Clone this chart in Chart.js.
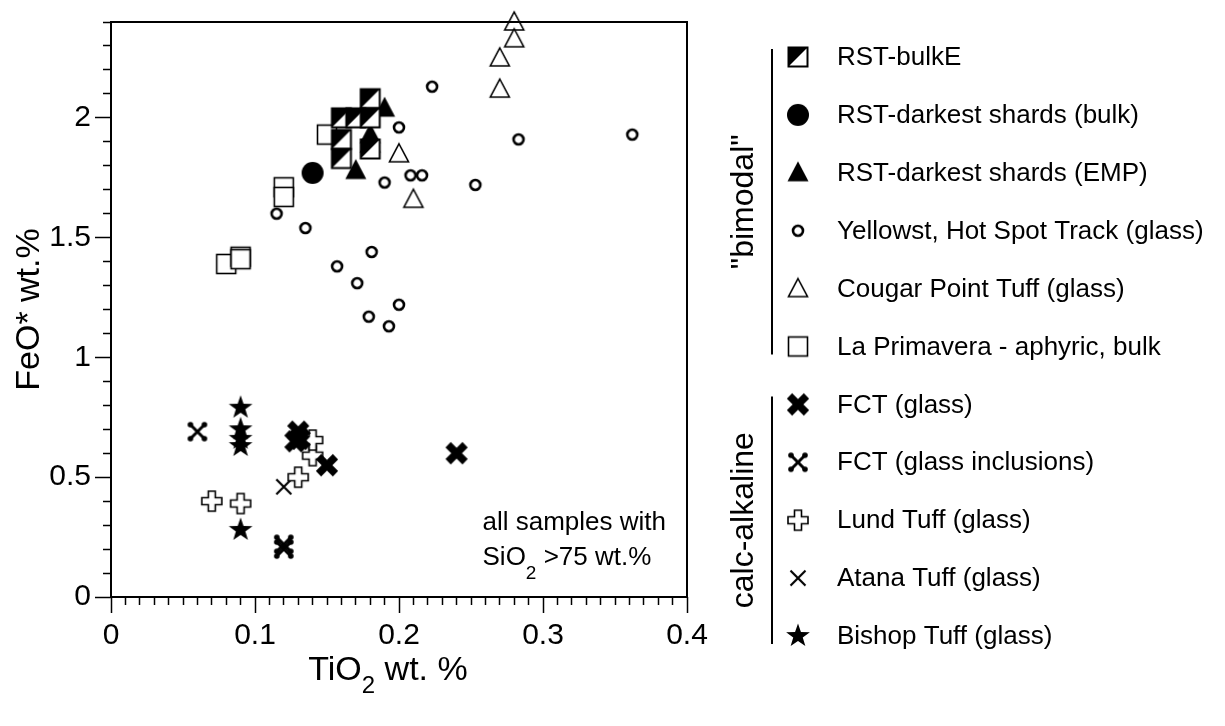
<!DOCTYPE html>
<html>
<head>
<meta charset="utf-8">
<script src="https://cdn.jsdelivr.net/npm/chart.js@4.4.1/dist/chart.umd.min.js"></script>
<style>
  html, body { margin: 0; padding: 0; background: #fff; }
  #wrap { width: 1225px; height: 726px; }
</style>
</head>
<body>
<div id="wrap"><canvas id="feoChart" width="1225" height="726"></canvas></div>
<script>
// TiO2 (x) vs FeO* (y), wt.%
const rstBulkE = [[0.18,2.08],[0.16,2.0],[0.17,2.0],[0.18,2.0],[0.16,1.91],[0.16,1.83],[0.18,1.87]];
const rstDarkBulk = [[0.14,1.77]];
const rstDarkEmp = [[0.19,2.04],[0.18,1.93],[0.18,1.89],[0.17,1.78]];
const yellowstone = [[0.2,1.96],[0.19,1.73],[0.208,1.76],[0.216,1.76],[0.223,2.13],[0.283,1.91],[0.362,1.93],[0.253,1.72],
  [0.115,1.6],[0.135,1.54],[0.181,1.44],[0.157,1.38],[0.171,1.31],[0.2,1.22],[0.179,1.17],[0.193,1.13]];
const cougarPoint = [[0.28,2.4],[0.28,2.33],[0.27,2.25],[0.27,2.12],[0.2,1.85],[0.21,1.66]];
const laPrimavera = [[0.15,1.93],[0.12,1.71],[0.12,1.67],[0.08,1.39],[0.09,1.42],[0.09,1.41]];
const fctGlass = [[0.13,0.69],[0.131,0.66],[0.128,0.65],[0.15,0.55],[0.24,0.60]];
const fctInclusions = [[0.06,0.69],[0.12,0.22],[0.12,0.20]];
const lundTuff = [[0.07,0.40],[0.09,0.39],[0.13,0.50],[0.14,0.59],[0.14,0.655]];
const atanaTuff = [[0.12,0.46],[0.12,0.21]];
const bishopTuff = [[0.09,0.79],[0.09,0.70],[0.09,0.66],[0.09,0.63],[0.09,0.28]];

const seriesNames = ['RST-bulkE', 'RST-darkest shards (bulk)', 'RST-darkest shards (EMP)',
  'Yellowst, Hot Spot Track (glass)', 'Cougar Point Tuff (glass)', 'La Primavera - aphyric, bulk',
  'FCT (glass)', 'FCT (glass inclusions)', 'Lund Tuff (glass)', 'Atana Tuff (glass)', 'Bishop Tuff (glass)'];
const groupNames = ['"bimodal"', 'calc-alkaline'];
const groupSizes = [6, 5];

const xTicksMajor = [0, 0.1, 0.2, 0.3, 0.4];
const yTicksMajor = [0, 0.5, 1, 1.5, 2];

const FONT = "'Liberation Sans', Arial, Helvetica, sans-serif";

// small canvases used as point styles
function marker(draw) {
  const c = document.createElement('canvas');
  c.width = 32; c.height = 32;
  const g = c.getContext('2d');
  g.translate(16, 16);
  g.strokeStyle = '#000';
  g.fillStyle = '#000';
  draw(g);
  return c;
}

const markers = [
  marker(g => { // half-filled square
    g.fillStyle = '#fff'; g.fillRect(-9.5, -9.5, 19, 19);
    g.fillStyle = '#000';
    g.beginPath(); g.moveTo(-9.5, -9.5); g.lineTo(9.5, -9.5); g.lineTo(-9.5, 9.5); g.closePath(); g.fill();
    g.lineWidth = 2; g.strokeRect(-9.5, -9.5, 19, 19);
  }),
  marker(g => { g.beginPath(); g.arc(0, 0, 11, 0, Math.PI * 2); g.fill(); }),
  marker(g => {
    g.beginPath(); g.moveTo(0, -11.5); g.lineTo(10.5, 8.5); g.lineTo(-10.5, 8.5); g.closePath(); g.fill();
  }),
  marker(g => {
    g.fillStyle = '#fff'; g.lineWidth = 2.6;
    g.beginPath(); g.arc(0, 0, 5, 0, Math.PI * 2); g.fill(); g.stroke();
  }),
  marker(g => {
    g.fillStyle = '#fff'; g.lineWidth = 1.6;
    g.beginPath(); g.moveTo(0, -10); g.lineTo(9.5, 8); g.lineTo(-9.5, 8); g.closePath(); g.fill(); g.stroke();
  }),
  marker(g => {
    g.fillStyle = '#fff'; g.lineWidth = 1.6;
    g.fillRect(-9.5, -9.5, 19, 19); g.strokeRect(-9.5, -9.5, 19, 19);
  }),
  marker(g => { // heavy x
    g.lineWidth = 7.5;
    g.beginPath(); g.moveTo(-8.5, -8.5); g.lineTo(8.5, 8.5); g.moveTo(8.5, -8.5); g.lineTo(-8.5, 8.5); g.stroke();
  }),
  marker(g => { // x with knobbed ends
    g.lineWidth = 3;
    g.beginPath(); g.moveTo(-7, -7); g.lineTo(7, 7); g.moveTo(7, -7); g.lineTo(-7, 7); g.stroke();
    [[-7, -7], [7, -7], [7, 7], [-7, 7]].forEach(([a, b]) => {
      g.beginPath(); g.arc(a, b, 2.8, 0, Math.PI * 2); g.fill();
    });
  }),
  marker(g => { // open plus
    const w = 3.5, r = 10;
    g.fillStyle = '#fff'; g.lineWidth = 1.6;
    g.beginPath();
    g.moveTo(-w, -r); g.lineTo(w, -r); g.lineTo(w, -w); g.lineTo(r, -w); g.lineTo(r, w); g.lineTo(w, w);
    g.lineTo(w, r); g.lineTo(-w, r); g.lineTo(-w, w); g.lineTo(-r, w); g.lineTo(-r, -w); g.lineTo(-w, -w);
    g.closePath(); g.fill(); g.stroke();
  }),
  marker(g => {
    g.lineWidth = 2.2;
    g.beginPath(); g.moveTo(-7.5, -7.5); g.lineTo(7.5, 7.5); g.moveTo(7.5, -7.5); g.lineTo(-7.5, 7.5); g.stroke();
  }),
  marker(g => { // filled star
    g.beginPath();
    for (let i = 0; i < 10; i++) {
      const r = i % 2 ? 5 : 12.5;
      const a = -Math.PI / 2 + i * Math.PI / 5;
      g.lineTo(r * Math.cos(a), r * Math.sin(a));
    }
    g.closePath(); g.fill();
  })
];

const seriesData = [rstBulkE, rstDarkBulk, rstDarkEmp, yellowstone, cougarPoint, laPrimavera,
  fctGlass, fctInclusions, lundTuff, atanaTuff, bishopTuff];

const isMajor = (v, step) => Math.abs(v / step - Math.round(v / step)) < 1e-6;

// outer frame around the plot area
const frame = {
  id: 'frame',
  afterDraw(chart) {
    const { ctx, chartArea: a } = chart;
    ctx.save();
    ctx.lineWidth = 2;
    ctx.strokeStyle = '#000';
    ctx.strokeRect(a.left, a.top, a.right - a.left, a.bottom - a.top);
    ctx.restore();
  }
};

// text with a lowered "2"
function subText(ctx, parts, x, y, size, drop, align) {
  const subSize = Math.round(size * 0.72);
  let total = 0;
  parts.forEach(p => {
    ctx.font = (p.sub ? subSize : size) + 'px ' + FONT;
    total += ctx.measureText(p.t).width;
  });
  let cx = align === 'center' ? x - total / 2 : x;
  parts.forEach(p => {
    ctx.font = (p.sub ? subSize : size) + 'px ' + FONT;
    ctx.fillText(p.t, cx, p.sub ? y + drop : y);
    cx += ctx.measureText(p.t).width;
  });
}

const labels = {
  id: 'labels',
  afterDraw(chart) {
    const { ctx, scales: { x, y } } = chart;
    ctx.save();
    ctx.fillStyle = '#000';
    ctx.textBaseline = 'alphabetic';
    ctx.textAlign = 'left';
    subText(ctx, [{ t: 'TiO' }, { t: '2', sub: true }, { t: ' wt. %' }], (x.left + x.right) / 2 - 11, 680, 34, 13, 'center');
    ctx.font = '26px ' + FONT;
    const nx = x.getPixelForValue(0.258);
    ctx.fillText('all samples with', nx, y.getPixelForValue(0.28));
    subText(ctx, [{ t: 'SiO' }, { t: '2', sub: true }, { t: ' >75 wt.%' }], nx, y.getPixelForValue(0.135), 26, 14, 'left');
    ctx.restore();
  }
};

// grouped legend on the right
const sideLegend = {
  id: 'sideLegend',
  afterDraw(chart) {
    const { ctx } = chart;
    const top = 57, step = 57.9, mx = 798, tx = 837, lineX = 772;
    ctx.save();
    ctx.fillStyle = '#000';
    ctx.strokeStyle = '#000';
    ctx.textBaseline = 'middle';
    ctx.font = '26px ' + FONT;
    chart.data.datasets.forEach((ds, i) => {
      const yy = top + i * step;
      ctx.drawImage(ds.pointStyle, mx - 16, yy - 16);
      ctx.fillText(ds.label, tx, yy + 1);
    });
    let start = 0;
    groupNames.forEach((name, gi) => {
      const end = start + groupSizes[gi] - 1;
      const y0 = top + start * step - 8, y1 = top + end * step + 8;
      ctx.lineWidth = 2;
      ctx.beginPath(); ctx.moveTo(lineX, y0); ctx.lineTo(lineX, y1); ctx.stroke();
      ctx.save();
      ctx.translate(744, (y0 + y1) / 2);
      ctx.rotate(-Math.PI / 2);
      ctx.textAlign = 'center';
      ctx.font = '32px ' + FONT;
      ctx.fillText(name, 0, 0);
      ctx.restore();
      start = end + 1;
    });
    ctx.restore();
  }
};

new Chart(document.getElementById('feoChart'), {
  type: 'scatter',
  data: {
    datasets: seriesNames.map((name, i) => ({
      label: name,
      data: seriesData[i].map(([px, py]) => ({ x: px, y: py })),
      pointStyle: markers[i],
      pointRadius: 10,
      clip: false
    }))
  },
  options: {
    responsive: false,
    animation: false,
    layout: { padding: { left: 0, top: 22, right: 538, bottom: 0 } },
    plugins: { legend: { display: false }, tooltip: { enabled: false } },
    scales: {
      x: {
        type: 'linear', min: 0, max: 0.4,
        afterFit: s => { s.height = 129; },
        border: { display: false },
        grid: {
          drawOnChartArea: false, tickLength: 16, tickWidth: 1.5, tickColor: '#000',
          tickBorderDash: c => (c.tick && isMajor(c.tick.value, 0.1)) ? [] : [8, 100]
        },
        ticks: {
          stepSize: 0.01, autoSkip: false, maxRotation: 0, padding: 5,
          color: '#000', font: { family: FONT, size: 30 },
          callback: v => xTicksMajor.some(m => Math.abs(m - v) < 1e-6) ? String(Math.round(v * 10) / 10) : ''
        }
      },
      y: {
        type: 'linear', min: 0, max: 2.4,
        afterFit: s => { s.width = 111; },
        border: { display: false },
        grid: {
          drawOnChartArea: false, tickLength: 16, tickWidth: 1.5, tickColor: '#000',
          tickBorderDash: c => (c.tick && isMajor(c.tick.value, 0.5)) ? [] : [0, 8, 8, 100]
        },
        ticks: {
          stepSize: 0.1, autoSkip: false, padding: 4,
          color: '#000', font: { family: FONT, size: 30 },
          callback: v => yTicksMajor.some(m => Math.abs(m - v) < 1e-6) ? String(Math.round(v * 10) / 10) : ''
        },
        title: {
          display: true, text: 'FeO* wt.%', color: '#000',
          font: { family: FONT, size: 34 }, padding: { top: 9, bottom: 0 }
        }
      }
    }
  },
  plugins: [frame, labels, sideLegend]
});
</script>
</body>
</html>
